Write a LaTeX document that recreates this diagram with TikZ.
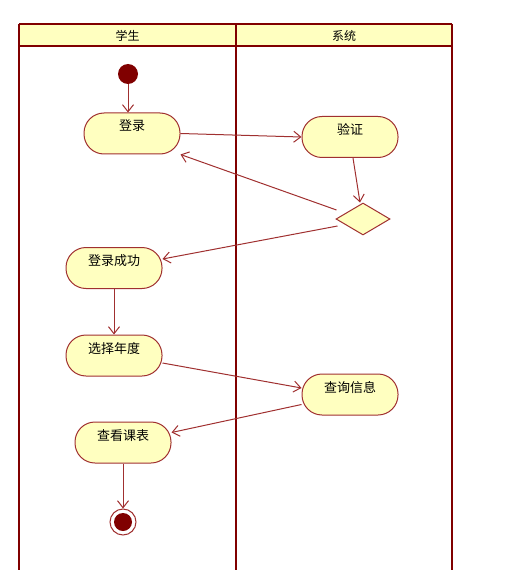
\documentclass[tikz,border=0pt]{standalone}
\usepackage{fontspec}
\newfontfamily\cjk{Noto Sans CJK SC}
\usetikzlibrary{arrows.meta,shapes.geometric,calc}
\definecolor{lane}{HTML}{800000}
\definecolor{edge}{HTML}{A03030}
\definecolor{fillY}{HTML}{FFFFC0}
\tikzset{
  act/.style={draw=edge, line width=1pt, fill=fillY, rounded corners=20pt,
    minimum width=96pt, inner sep=0pt, text height=18pt, text depth=23pt,
    font=\cjk\fontsize{13pt}{13pt}\selectfont},
  flow/.style={draw=edge, line width=1pt, -{Straight Barb[length=7pt,width=11pt]}},
  lanefont/.style={font=\cjk\fontsize{12pt}{12pt}\selectfont}
}
\begin{document}
\begin{tikzpicture}[x=1pt,y=-1pt]
\useasboundingbox (0,0) rectangle (517,580);
% swimlanes
\fill[fillY] (19,24) rectangle (452,46);
\draw[lane, line width=2pt] (19,24) -- (452,24);
\draw[lane, line width=2pt] (19,46) -- (452,46);
\draw[lane, line width=2pt] (19,24) -- (19,570);
\draw[lane, line width=2pt] (236,24) -- (236,570);
\draw[lane, line width=2pt] (452,24) -- (452,570);
\node[lanefont] (h1) at (127.5,36) {学生};
\node[lanefont] (h2) at (344,36) {系统};
% nodes
\node[circle, fill=lane, minimum size=20pt, inner sep=0pt] (start) at (128,74) {};
\node[act] (login) at (132,133.5) {登录};
\node[act] (verify) at (350,137) {验证};
\node[diamond, draw=edge, line width=1pt, fill=fillY, minimum width=54pt, minimum height=32pt, inner sep=0pt] (dia) at (363,219) {};
\node[act] (succ) at (114,268) {登录成功};
\node[act] (select) at (114,355.5) {选择年度};
\node[act] (query) at (350,394.5) {查询信息};
\node[act] (view) at (123,442.5) {查看课表};
\node[circle, draw=edge, line width=1pt, fill=white, minimum size=26pt, inner sep=0pt] (end) at (123,522) {};
\node[circle, fill=lane, minimum size=18pt, inner sep=0pt] (endin) at (123,522) {};
% flows
\draw[flow] (start) -- (login.north -| start);
\draw[flow] (login.east) -- (verify.west);
\draw[flow] ($(verify.south)+(3,0)$) -- ($(dia.north)+(-3,0)$);
\draw[flow] ($(dia.west)+(1,-9)$) -- (login.south east);
\draw[flow] ($(dia.west)+(2,7)$) -- ($(succ.east)+(0,-9)$);
\draw[flow] (succ.south) -- (select.north);
\draw[flow] ($(select.east)+(0,7.5)$) -- ($(query.west)+(0,-6.5)$);
\draw[flow] ($(query.west)+(0,10)$) -- ($(view.east)+(0,-10)$);
\draw[flow] (view.south) -- (end.north);
\end{tikzpicture}
\end{document}
